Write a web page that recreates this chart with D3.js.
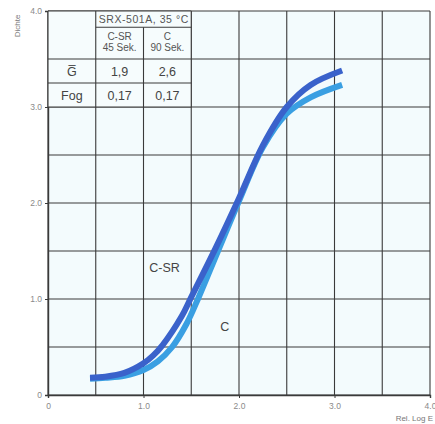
<!DOCTYPE html>
<html>
<head>
<meta charset="utf-8">
<script src="https://cdn.jsdelivr.net/npm/d3@7"></script>
<style>
  body { margin:0; background:#fff; }
  svg text { font-family: "Liberation Sans", Arial, sans-serif; }
</style>
</head>
<body>
<div id="chart"></div>
<script>
// Dichtekurven C-SR / C (SRX-501A, 35 °C)
const xTicks = [0, 1, 2, 3, 4];
const yTicks = [0, 1, 2, 3, 4];
const tickLabel = v => v === 0 ? '0' : v.toFixed(1);

const seriesNames = ['C', 'C-SR'];
const logE_C    = [0.44, 0.6, 0.8, 1.0, 1.15, 1.3, 1.45, 1.57, 1.78, 2.0, 2.25, 2.5, 2.75, 3.08];
const dens_C    = [0.17, 0.18, 0.2, 0.26, 0.35, 0.5, 0.74, 1.0, 1.5, 2.02, 2.58, 2.93, 3.1, 3.23];
const logE_CSR  = [0.44, 0.6, 0.8, 1.0, 1.1, 1.2, 1.4, 1.5, 1.75, 2.0, 2.25, 2.5, 2.75, 3.08];
const dens_CSR  = [0.18, 0.19, 0.23, 0.33, 0.41, 0.52, 0.82, 1.02, 1.52, 2.05, 2.6, 3.0, 3.23, 3.38];

const tableHead = 'SRX-501A, 35 °C';
const tableCols = [['C-SR', '45 Sek.'], ['C', '90 Sek.']];
const tableRows = [
  { label:'G\u0305', vals:['1,9', '2,6'] },
  { label:'Fog',     vals:['0,17', '0,17'] }
];

const W = 435, H = 424;
const m = { left:48, right:5, top:11, bottom:29 };

const svg = d3.select('#chart').append('svg')
  .attr('width', W).attr('height', H);

const x = d3.scaleLinear().domain([0, 4]).range([m.left, W - m.right]);
const y = d3.scaleLinear().domain([0, 4]).range([H - m.bottom, m.top]);

// Hintergrund
svg.append('rect')
  .attr('x', x(0)).attr('y', y(4))
  .attr('width', x(4) - x(0)).attr('height', y(0) - y(4))
  .attr('fill', '#f3fbfd');

// Gitter (0.5er Raster)
const gridX = d3.range(0, 4.01, 0.5);
const gridY = d3.range(0, 4.01, 0.5);
const grid = svg.append('g').attr('stroke', '#3a3a3a').attr('stroke-width', 1.1);
grid.selectAll('line.gx').data(gridX).enter().append('line')
  .attr('x1', d => x(d)).attr('x2', d => x(d))
  .attr('y1', y(0)).attr('y2', y(4));
grid.selectAll('line.gy').data(gridY).enter().append('line')
  .attr('y1', d => y(d)).attr('y2', d => y(d))
  .attr('x1', x(0)).attr('x2', x(4));

// Achsen
const ax = svg.append('g').attr('transform', `translate(0,${y(0)})`)
  .call(d3.axisBottom(x).tickValues(xTicks).tickSize(3).tickFormat(tickLabel));
const ay = svg.append('g').attr('transform', `translate(${x(0)},0)`)
  .call(d3.axisLeft(y).tickValues(yTicks).tickSize(3).tickFormat(tickLabel));
[ax, ay].forEach(a => {
  a.select('.domain').attr('stroke', '#3a3a3a').attr('stroke-width', 1.4);
  a.selectAll('.tick line').attr('stroke', '#3a3a3a');
  a.selectAll('.tick text').attr('fill', '#8a8a8a').attr('font-size', 8.5);
});
ax.selectAll('.tick text').attr('dy', '0.9em');

svg.append('text')
  .attr('x', x(4) + 3).attr('y', H - 3)
  .attr('text-anchor', 'end').attr('font-size', 8).attr('fill', '#777')
  .text('Rel. Log E');
svg.append('text')
  .attr('transform', `translate(20,${y(4) + 15}) rotate(-90)`)
  .attr('text-anchor', 'middle').attr('font-size', 8).attr('fill', '#777')
  .text('Dichte');

// Tabelle
const tb = svg.append('g');
const colX = [x(0), x(0.5), x(1.0), x(1.5)];
const headB = y(3.83), sub = y(3.5), r1 = y(3.25), r2 = y(3.0);
tb.append('rect')
  .attr('x', colX[0]).attr('y', y(4))
  .attr('width', colX[3] - colX[0]).attr('height', r2 - y(4))
  .attr('fill', '#f6fcfd');
const tl = tb.append('g').attr('stroke', '#3a3a3a').attr('stroke-width', 1.1);
[[colX[1], headB, colX[3], headB], [colX[0], sub, colX[3], sub], [colX[0], r1, colX[3], r1],
 [colX[0], y(4), colX[0], r2], [colX[1], y(4), colX[1], r2], [colX[2], headB, colX[2], r2],
 [colX[3], y(4), colX[3], r2], [colX[0], y(4), colX[3], y(4)], [colX[0], r2, colX[3], r2]]
  .forEach(l => tl.append('line').attr('x1', l[0]).attr('y1', l[1]).attr('x2', l[2]).attr('y2', l[3]));

tb.append('text')
  .attr('x', (colX[1] + colX[3]) / 2).attr('y', (y(4) + headB) / 2 + 4)
  .attr('text-anchor', 'middle').attr('font-size', 10.5).attr('fill', '#555')
  .attr('textLength', colX[3] - colX[1] - 6)
  .text(tableHead);
tableCols.forEach((c, i) => {
  const cx = (colX[i + 1] + colX[i + 2]) / 2;
  c.forEach((t, j) => tb.append('text')
    .attr('x', cx).attr('y', headB + 12.5 + j * 11)
    .attr('text-anchor', 'middle').attr('font-size', 10).attr('fill', '#555')
    .text(t));
});
tableRows.forEach((r, i) => {
  const top = i === 0 ? sub : r1, bot = i === 0 ? r1 : r2;
  const cy = (top + bot) / 2 + 4.5;
  tb.append('text')
    .attr('x', (colX[0] + colX[1]) / 2).attr('y', cy)
    .attr('text-anchor', 'middle').attr('font-size', 12.5).attr('fill', '#444')
    .text(r.label);
  r.vals.forEach((v, j) => tb.append('text')
    .attr('x', (colX[j + 1] + colX[j + 2]) / 2).attr('y', cy)
    .attr('text-anchor', 'middle').attr('font-size', 12.5).attr('fill', '#444')
    .text(v));
});

// Kurven
const line = d3.line().x(d => x(d[0])).y(d => y(d[1])).curve(d3.curveCatmullRom.alpha(0.5));
const curves = [
  { name:'C',    pts:d3.zip(logE_C, dens_C),     color:'#3a9fe2' },
  { name:'C-SR', pts:d3.zip(logE_CSR, dens_CSR), color:'#3a62cb' }
];
svg.selectAll('path.curve').data(curves).enter().append('path')
  .attr('class', 'curve')
  .attr('d', d => line(d.pts))
  .attr('fill', 'none')
  .attr('stroke', d => d.color)
  .attr('stroke-width', 6)
  .attr('stroke-linecap', 'butt');

// Kurvenbeschriftung
svg.append('text')
  .attr('x', x(1.22)).attr('y', y(1.28))
  .attr('text-anchor', 'middle').attr('font-size', 12.5).attr('fill', '#444')
  .text(seriesNames[1]);
svg.append('text')
  .attr('x', x(1.85)).attr('y', y(0.67))
  .attr('text-anchor', 'middle').attr('font-size', 12.5).attr('fill', '#444')
  .text(seriesNames[0]);
</script>
</body>
</html>
